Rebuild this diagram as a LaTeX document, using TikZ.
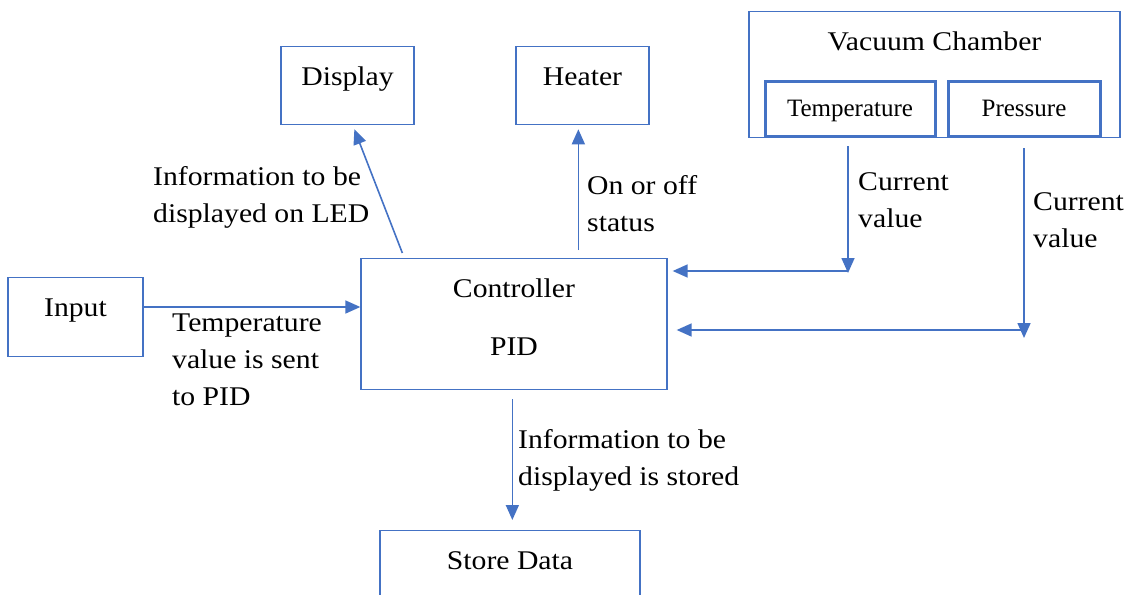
\documentclass[tikz,border=0pt]{standalone}
\usepackage{fontspec}
\setmainfont{Liberation Serif}[FakeStretch=1.1]
\newfontfamily\sensorfont{Liberation Serif}
\usetikzlibrary{arrows.meta,positioning}
\definecolor{boxblue}{RGB}{68,114,196}
\tikzset{
    blockbox/.style={rectangle,draw=boxblue,line width=1.3pt,anchor=north,inner ysep=0pt,text height=39pt},
    sensorbox/.style={rectangle,draw=boxblue,line width=3pt,anchor=north,inner ysep=0pt,text height=35pt,text depth=20pt,font=\sensorfont\fontsize{25}{30}\selectfont},
    flowtext/.style={anchor=north west,inner sep=0pt,align=left},
    sigline/.style={-{Triangle[length=15pt,width=13pt]},boxblue,line width=1.6pt}
}

\begin{document}
\begin{tikzpicture}[x=1pt,y=-1pt,font=\fontsize{27}{37}\selectfont]
    \useasboundingbox (0,0) rectangle (1131,594);
    \clip (0,0) rectangle (1131,594);
    % blocks
    \node[blockbox,minimum width=133pt,text depth=39pt] (disp) at (347.5,46) {Display};
    \node[blockbox,minimum width=133pt,text depth=39pt] (heat) at (582.5,46) {Heater};
    \node[blockbox,minimum width=371pt,text depth=87pt] (vac) at (934.5,11) {Vacuum Chamber};
    \node[sensorbox,minimum width=170pt] (temp) at (850,80) {Temperature};
    \node[sensorbox,minimum width=152pt] (pres) at (1024,80) {Pressure};
    \node[blockbox,minimum width=306pt,text depth=92pt] (ctrl) at (514,258) {Controller};
    \node[anchor=base] (pid) at ([yshift=-58pt]ctrl.base) {PID};
    \node[blockbox,minimum width=135pt,text depth=40pt] (input) at (75.5,277) {Input};
    \node[blockbox,minimum width=260pt,text depth=70pt] (store) at (510,530) {Store Data};
    % connector points
    \coordinate (inout) at ([yshift=-30pt]input.north east);
    \coordinate (heatout) at ([xshift=218pt,yshift=8pt]ctrl.north west);
    \coordinate (storeout) at ([xshift=152pt,yshift=-9pt]ctrl.south west);
    \coordinate (tcorner) at (848,271);
    \coordinate (pcorner) at (1024,330);
    % connectors
    \draw[sigline] (inout) -- (inout -| ctrl.west);
    \draw[sigline] ([xshift=42pt,yshift=5pt]ctrl.north west) -- ([xshift=74pt,yshift=-4pt]disp.south west);
    \draw[sigline,shorten >=4pt] (heatout) -- (heatout |- heat.south);
    \draw[sigline,shorten >=10pt] (storeout) -- (storeout |- store.north);
    \draw[sigline,shorten <=8pt] (temp.south -| tcorner) -- ([yshift=-2pt]tcorner);
    \draw[sigline,shorten >=5pt] (tcorner) -- (tcorner -| ctrl.east);
    \draw[sigline,shorten <=10pt] (pres.south -| pcorner) -- ([yshift=-8pt]pcorner);
    \draw[sigline,shorten >=9pt] (pcorner) -- (pcorner -| ctrl.east);
    % labels
    \node[flowtext] (lbldisp) at (153,166) {Information to be\\displayed on LED};
    \node[flowtext] (lblheat) at (587,175) {On or off\\status};
    \node[flowtext] (lbltemp) at (858,172) {Current\\value};
    \node[flowtext] (lblpres) at (1033,192) {Current\\value};
    \node[flowtext] (lblin) at (172,314) {Temperature\\value is sent\\to PID};
    \node[flowtext] (lblstore) at (518,429) {Information to be\\displayed is stored};
\end{tikzpicture}
\end{document}
